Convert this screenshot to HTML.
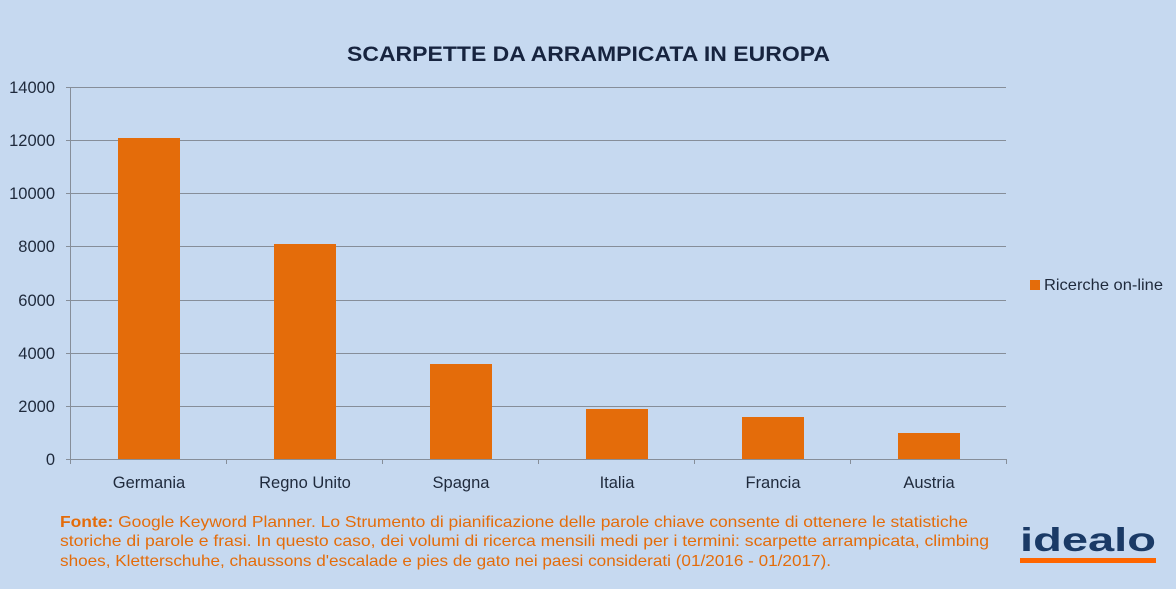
<!DOCTYPE html>
<html><head><meta charset="utf-8"><style>
html,body{margin:0;padding:0;background:#c6d9f0;}
svg{display:block;font-family:"Liberation Sans",sans-serif;}
</style></head><body>
<svg width="1176" height="589" viewBox="0 0 1176 589">
<rect width="1176" height="589" fill="#c6d9f0"/>
<text x="347" y="61" font-size="21" font-weight="bold" fill="#17243f" textLength="483" lengthAdjust="spacingAndGlyphs">SCARPETTE DA ARRAMPICATA IN EUROPA</text>
<g stroke="#868e99" stroke-width="1">
<line x1="66" y1="87.5" x2="1006" y2="87.5"/>
<line x1="66" y1="140.5" x2="1006" y2="140.5"/>
<line x1="66" y1="193.5" x2="1006" y2="193.5"/>
<line x1="66" y1="246.5" x2="1006" y2="246.5"/>
<line x1="66" y1="300.5" x2="1006" y2="300.5"/>
<line x1="66" y1="353.5" x2="1006" y2="353.5"/>
<line x1="66" y1="406.5" x2="1006" y2="406.5"/>
<line x1="66" y1="459.5" x2="1006" y2="459.5"/>
<line x1="70.5" y1="87" x2="70.5" y2="464"/>
<line x1="226.5" y1="459" x2="226.5" y2="464"/>
<line x1="382.5" y1="459" x2="382.5" y2="464"/>
<line x1="538.5" y1="459" x2="538.5" y2="464"/>
<line x1="694.5" y1="459" x2="694.5" y2="464"/>
<line x1="850.5" y1="459" x2="850.5" y2="464"/>
<line x1="1006.5" y1="459" x2="1006.5" y2="464"/>
</g>
<g fill="#e46c0a">
<rect x="118" y="138" width="62" height="321"/>
<rect x="274" y="244" width="62" height="215"/>
<rect x="430" y="364" width="62" height="95"/>
<rect x="586" y="409" width="62" height="50"/>
<rect x="742" y="417" width="62" height="42"/>
<rect x="898" y="433" width="62" height="26"/>
</g>
<g font-size="16.5" fill="#1f2a3c" text-anchor="end">
<text x="55" y="93">14000</text><text x="55" y="146">12000</text><text x="55" y="199">10000</text>
<text x="55" y="252">8000</text><text x="55" y="306">6000</text><text x="55" y="359">4000</text>
<text x="55" y="412">2000</text><text x="55" y="465">0</text>
</g>
<g font-size="16.5" fill="#1f2a3c" text-anchor="middle">
<text x="149" y="488">Germania</text><text x="305" y="488">Regno Unito</text><text x="461" y="488">Spagna</text>
<text x="617" y="488">Italia</text><text x="773" y="488">Francia</text><text x="929" y="488">Austria</text>
</g>
<rect x="1030" y="280" width="10" height="10" fill="#e46c0a"/>
<text x="1044" y="290" font-size="16" fill="#1f2a3c" textLength="119" lengthAdjust="spacingAndGlyphs">Ricerche on-line</text>
<g font-size="16" fill="#e46c0a">
<text x="60" y="527" textLength="908" lengthAdjust="spacingAndGlyphs"><tspan font-weight="bold">Fonte:</tspan> Google Keyword Planner. Lo Strumento di pianificazione delle parole chiave consente di ottenere le statistiche</text>
<text x="60" y="546" textLength="929" lengthAdjust="spacingAndGlyphs">storiche di parole e frasi. In questo caso, dei volumi di ricerca mensili medi per i termini: scarpette arrampicata, climbing</text>
<text x="60" y="566" textLength="771" lengthAdjust="spacingAndGlyphs">shoes, Kletterschuhe, chaussons d'escalade e pies de gato nei paesi considerati (01/2016 - 01/2017).</text>
</g>
<text x="1020" y="551" font-size="33" font-weight="bold" fill="#1a3a66" textLength="136" lengthAdjust="spacingAndGlyphs">idealo</text>
<rect x="1020" y="558" width="136" height="5" fill="#ff6600"/>
</svg>
</body></html>
